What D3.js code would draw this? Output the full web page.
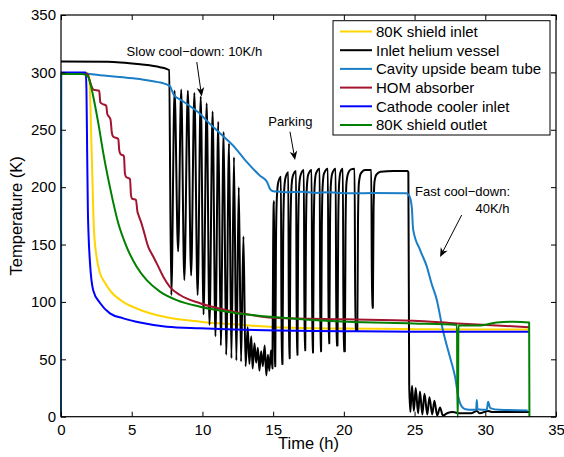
<!DOCTYPE html>
<html><head><meta charset="utf-8">
<script src="https://cdn.jsdelivr.net/npm/d3@7"></script>
<style>
body{margin:0;background:#fff}
svg{display:block}
text{font-family:"Liberation Sans",Arial,Helvetica,sans-serif;fill:#000}
</style>
</head><body>
<svg id="c" width="564" height="457"></svg>
<script>
// ---------- data ----------
const xTicks = [0, 5, 10, 15, 20, 25, 30, 35];
const yTicks = [0, 50, 100, 150, 200, 250, 300, 350];
const xLabel = "Time (h)";
const yLabel = "Temperature (K)";
const seriesNames = ["80K shield inlet", "Inlet helium vessel", "Cavity upside beam tube",
  "HOM absorber", "Cathode cooler inlet", "80K shield outlet"];

const shieldInlet = [[0,299],[1.9,299],[2.0,295],[2.17,230],[2.33,163],[2.52,139],[2.76,125],[3.1,117],
  [3.46,110],[4.4,100],[5.6,93],[7.47,86.6],[9.83,82.8],[12.2,80.5],[15.25,78],[20,76.8],[25,76.3],[30,76],[33.1,76]];

const heliumVessel = [[0,309.5],[3.3,309.2],[4.2,308.7],[5.6,307],[7.0,304.5],[7.5,302.8],[7.64,302],[7.8,106],
  [8.03,284],[8.28,144],[8.5,285],[8.72,119],[8.97,284],[9.2,123],[9.43,282],[9.66,106],[9.88,279],[10.08,89],
  [10.3,273],[10.5,80],[10.72,266],[10.92,70],[11.12,257],[11.3,62],[11.5,248],[11.68,54],[11.88,238],[12.05,51],
  [12.23,226],[12.4,49],[12.57,200],[12.73,48],[12.9,157],[13.05,44],
  [13.2,78],[13.32,46],[13.45,70],[13.55,42],[13.68,64],[13.8,47],[13.92,60],[14.03,40],[14.15,57],[14.27,44],
  [14.4,62],[14.52,36],[14.63,54],[14.73,40],[14.85,58],[14.95,42],
  [15.0,150],[15.04,185],[15.07,188],[15.1,44],
  [15.15,44],[15.2,150],[15.26,190],[15.36,204],[15.55,209],[15.6,46],
  [15.66,46],[15.71,155],[15.77,195],[15.87,208],[16.07,213],[16.12,51],
  [16.17,51],[16.22,155],[16.28,196],[16.38,209],[16.62,214],[16.67,54],
  [16.72,54],[16.77,158],[16.83,198],[16.93,210],[17.17,215],[17.22,58],
  [17.27,58],[17.32,160],[17.38,199],[17.48,211],[17.72,215],[17.77,56],
  [17.82,56],[17.87,160],[17.93,200],[18.03,212],[18.29,216],[18.34,57],
  [18.39,57],[18.44,162],[18.5,201],[18.6,212],[18.87,216],[18.92,64],
  [18.97,64],[19.02,165],[19.08,202],[19.18,212],[19.42,216],[19.47,62],
  [19.55,62],[19.6,165],[19.66,202],[19.76,213],[19.93,216],[19.98,57],
  [20.07,57],[20.12,165],[20.18,203],[20.3,212],[20.5,215.5],[20.76,216],[20.81,75],
  [20.95,75],[21.0,170],[21.06,203],[21.2,212],[21.5,215],[21.94,215],[21.99,95],
  [22.05,95],[22.1,180],[22.17,205],[22.3,211],[22.6,213.5],[23.5,214],[24.5,214],[24.56,213],[24.62,28],
  [24.7,4],[24.82,27],[24.95,5],[25.08,25],[25.25,3],[25.38,22],[25.55,2],[25.7,20],[25.9,2],[26.05,17],
  [26.25,2],[26.4,14],[26.6,1],[26.8,8],[27.0,1],[27.3,3],[27.7,4],[28.2,3],[29.0,3],[29.4,5],[29.6,3],
  [30.2,5],[30.5,4],[31.5,4],[33.1,4]];

const cavityTube = [[0,0],[0.02,299],[1,299.5],[2.76,297.6],[5.1,294.8],[6.29,292.7],[7.47,289.5],[7.7,288],
  [7.85,284],[8.0,280],[8.42,276.5],[9.36,268.5],[9.83,264],[10.3,258],[11.24,247],[12.19,236],[13.13,222],
  [14.07,210],[14.55,205],[14.8,198],[15.0,196.5],[15.5,196],[16,195.5],[17,196],[18,195],[19,195.5],
  [20.2,194.6],[22,195],[24.4,194.6],[24.6,193],[24.8,183],[24.9,163],[25.4,145],[25.86,131],[26.2,116],
  [26.57,102],[27.0,75.5],[27.5,52],[27.86,35],[28.1,17],[28.33,9],[28.6,6.5],[29.1,6],[29.35,6],
  [29.4,14.5],[29.45,6.5],[30.1,6],[30.2,13],[30.35,7.5],[31,6],[33.0,5.5]];

const homAbsorber = [[0,299],[1.85,299],[1.95,296],[2.1,290],[2.3,285],[2.7,284],[2.78,274],[2.85,273],
  [3.2,271],[3.27,264],[3.5,259],[3.6,247],[3.7,244],[4.05,242],[4.12,232],[4.2,229],[4.45,227],[4.52,212],
  [4.6,209],[4.88,207],[4.95,193],[5.02,190],[5.3,189],[5.4,179],[5.5,175],[5.65,170],[5.82,163],[6.17,148],
  [6.5,140],[6.77,133.6],[7.23,122],[7.71,113],[8.42,106],[9.83,98.8],[12.2,91.5],[15.25,86],[20.2,84.8],
  [24.9,83.6],[28,81.3],[30.8,79.5],[33.1,78]];

const cathodeInlet = [[0,300],[1.75,300],[1.8,285],[1.85,230],[1.9,180],[1.95,158],[2.05,134],[2.28,110],
  [2.76,99],[3.46,90],[4.41,85.7],[5.59,82],[7.47,78.4],[9.83,77],[12.19,76],[15.25,75],[20,74.5],[25,74],
  [30,74],[33.1,74]];

const shieldOutlet = [[0,298.5],[1.5,298.5],[1.7,298],[1.93,296],[2.1,289],[2.28,279],[2.64,255.6],[3.0,229],
  [3.46,200],[4.05,168.5],[4.64,148],[5.35,130.7],[6.06,119],[7.0,109],[8.18,101.6],[9.83,95.8],[12.2,90.6],
  [15.25,86.6],[17.5,84.5],[20.2,82.8],[24.9,81.3],[28.0,80],[28.03,0],[28.07,0],[28.1,79.5],[29.5,79.5],
  [30.8,82],[32.0,82.8],[33.1,82],[33.12,0]];

// annotations (data coordinates)
const annotationTexts = ["Slow cool\u2212down: 10K/h", "Parking", "Fast cool\u2212down:", "40K/h"];
const annotationPos = [[4.64,314,"start"],[14.66,253.7,"start"],[31.75,192.2,"end"],[31.71,177.4,"end"]];
const arrows = [[[9.6,309],[9.95,279]], [[16.19,248.3],[16.55,223.6]], [[28.33,175.7],[26.8,139.1]]];

// ---------- styles ----------
const colors = ["#FFD400", "#000000", "#1A7EC6", "#A2142F", "#0000FF", "#008000"];
const allSeries = [shieldInlet, heliumVessel, cavityTube, homAbsorber, cathodeInlet, shieldOutlet];

const svg = d3.select("#c");
const L = 61, R = 556, T = 15, B = 416.7;
const x = d3.scaleLinear().domain([0, 35]).range([L, R]);
const y = d3.scaleLinear().domain([0, 350]).range([B, T]);

// lines
const line = d3.line().x(d => x(d[0])).y(d => y(d[1])).curve(d3.curveMonotoneX);
svg.append("g").selectAll("path").data(allSeries).join("path")
  .attr("d", line).attr("fill", "none")
  .attr("stroke", (d, i) => colors[i]).attr("stroke-width", 2)
  .attr("stroke-linejoin", "round");

// axes
function styleAxis(g) {
  g.select(".domain").remove();
  g.selectAll(".tick line").attr("stroke", "#000").attr("stroke-width", 1);
  g.selectAll(".tick text").attr("font-size", 15).attr("fill", "#000")
    .attr("font-family", "Liberation Sans, Arial, sans-serif");
}
svg.append("g").attr("transform", `translate(0,${B})`)
  .call(d3.axisBottom(x).tickValues(xTicks).tickSizeInner(-5).tickSizeOuter(0).tickPadding(8).tickFormat(d3.format("d")))
  .call(styleAxis);
svg.append("g").attr("transform", `translate(0,${T})`)
  .call(d3.axisTop(x).tickValues(xTicks).tickSizeInner(-5).tickSizeOuter(0).tickFormat(() => ""))
  .call(styleAxis);
svg.append("g").attr("transform", `translate(${L},0)`)
  .call(d3.axisLeft(y).tickValues(yTicks).tickSizeInner(-5).tickSizeOuter(0).tickPadding(5).tickFormat(d3.format("d")))
  .call(styleAxis);
svg.append("g").attr("transform", `translate(${R},0)`)
  .call(d3.axisRight(y).tickValues(yTicks).tickSizeInner(-5).tickSizeOuter(0).tickFormat(() => ""))
  .call(styleAxis);
svg.append("rect").attr("x", L).attr("y", T).attr("width", R - L).attr("height", B - T)
  .attr("fill", "none").attr("stroke", "#000").attr("stroke-width", 1.2);

// axis titles
svg.append("text").attr("x", (L + R) / 2).attr("y", 449).attr("text-anchor", "middle")
  .attr("font-size", 16.5).text(xLabel);
svg.append("text").attr("transform", `translate(22,${(T + B) / 2}) rotate(-90)`).attr("text-anchor", "middle")
  .attr("font-size", 16.5).text(yLabel);

// annotations
annotationTexts.forEach((t, i) => {
  const p = annotationPos[i];
  svg.append("text").attr("x", x(p[0])).attr("y", y(p[1])).attr("text-anchor", p[2])
    .attr("font-size", 13).text(t);
});
arrows.forEach(a => {
  const x1 = x(a[0][0]), y1 = y(a[0][1]), x2 = x(a[1][0]), y2 = y(a[1][1]);
  const ang = Math.atan2(y2 - y1, x2 - x1);
  const len = 9, hw = 3.8, notch = 6.5;
  const bx = x2 - len * Math.cos(ang), by = y2 - len * Math.sin(ang);
  const nx = x2 - notch * Math.cos(ang), ny = y2 - notch * Math.sin(ang);
  svg.append("line").attr("x1", x1).attr("y1", y1).attr("x2", nx).attr("y2", ny)
    .attr("stroke", "#000").attr("stroke-width", 1);
  const px = -Math.sin(ang), py = Math.cos(ang);
  svg.append("path").attr("d",
    `M${x2},${y2}L${bx + hw * px},${by + hw * py}L${nx},${ny}L${bx - hw * px},${by - hw * py}Z`)
    .attr("fill", "#000");
});

// legend
const lg = svg.append("g");
lg.append("rect").attr("x", 333).attr("y", 20.7).attr("width", 217).attr("height", 114.3)
  .attr("fill", "#fff").attr("stroke", "#000").attr("stroke-width", 1);
seriesNames.forEach((n, i) => {
  const cy = 31.5 + i * 18.7;
  lg.append("line").attr("x1", 340).attr("x2", 372).attr("y1", cy).attr("y2", cy)
    .attr("stroke", colors[i]).attr("stroke-width", 2);
  lg.append("text").attr("x", 376).attr("y", cy + 5.3).attr("font-size", 15).text(n);
});
</script>
</body></html>
